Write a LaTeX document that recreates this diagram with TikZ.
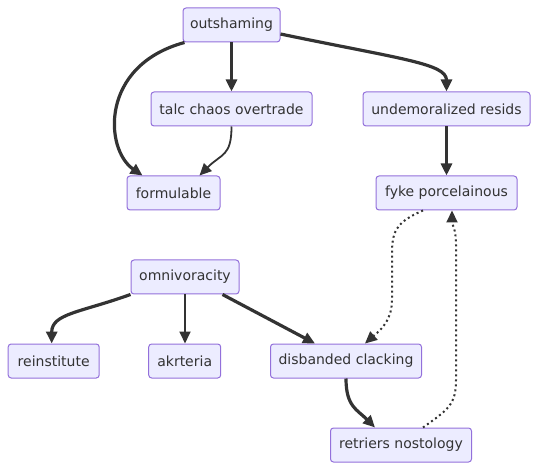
\documentclass[tikz,border=0pt]{standalone}
\usepackage{fontspec}
\setmainfont{DejaVu Sans}
\usetikzlibrary{arrows.meta,positioning}
\definecolor{mfill}{HTML}{ECECFF}
\definecolor{mstroke}{HTML}{9370DB}
\definecolor{mline}{HTML}{333333}
\tikzset{
  nbox/.style={draw=mstroke,fill=mfill,rounded corners=3pt,line width=1pt,text=mline,font=\fontsize{14}{16}\selectfont,minimum height=34pt,inner xsep=7pt,inner ysep=0pt},
  arr/.style={-{Triangle[length=12pt,width=11pt]},line width=1.8pt,draw=mline},
  tarr/.style={-{Triangle[length=12pt,width=11pt]},line width=3.2pt,draw=mline},
  darr/.style={-{Triangle[length=12pt,width=11pt]},line width=2pt,draw=mline,dash pattern=on 2pt off 3pt},
}
\begin{document}
\begin{tikzpicture}[x=1pt,y=-1pt]
  \useasboundingbox (0,0) rectangle (538,470);
  % upper group
  \node[nbox,minimum width=97pt] (outshaming) at (231.5,25) {outshaming};
  \node[nbox,minimum width=161pt] (talc) at (231.5,109) {talc chaos overtrade};
  \node[nbox,minimum width=167pt] (undem) at (446.5,109) {undemoralized resids};
  \node[nbox,minimum width=93pt] (formul) at (173.5,193) {formulable};
  \node[nbox,minimum width=141pt] (fyke) at (446.5,193) {fyke porcelainous};
  % lower group
  \node[nbox,minimum width=108pt] (omni) at (185,277) {omnivoracity};
  \node[nbox,minimum width=91pt] (rein) at (53.7,361) {reinstitute};
  \node[nbox,minimum width=72pt] (akr) at (184.7,361) {akrteria};
  \node[nbox,minimum width=151pt] (disb) at (346,361) {disbanded clacking};
  \node[nbox,minimum width=141pt] (retr) at (401,445) {retriers nostology};
  % connectors
  \draw[tarr] ([xshift=2pt]outshaming.south west) .. controls +(-85,23) and +(-38,-26) .. ([xshift=16pt]formul.north west);
  \draw[tarr] (outshaming) -- (talc);
  \draw[tarr] ([yshift=-9pt]outshaming.east) .. controls +(120,25) and +(0,-28) .. (undem.north);
  \draw[arr] (talc.south) .. controls +(0,30) and +(22,-22) .. ([xshift=-21pt]formul.north east);
  \draw[tarr] (undem) -- (fyke);
  \draw[darr] ([xshift=-23.5pt]fyke.south) .. controls +(-28,12) and (392,232) .. (392,255) -- (392,300) .. controls (392,322) and (378,332) .. ([xshift=19pt]disb.north);
  \draw[darr] ([xshift=22pt]retr.north) .. controls +(25,-18) and (456,405) .. (456,380) -- (456,245) .. controls (456,228) and (452,225) .. ([xshift=5.5pt]fyke.south);
  \draw[tarr] (omni.south west) .. controls +(-50,18) and +(0,-30) .. ([xshift=-2pt]rein.north);
  \draw[arr] (omni.south) -- (omni.south |- akr.north);
  \draw[tarr] ([xshift=-17pt]omni.south east) -- ([xshift=-31pt]disb.north);
  \draw[tarr] (disb.south) .. controls +(0,28) and +(-18,-18) .. ([xshift=-26pt]retr.north);
\end{tikzpicture}
\end{document}
